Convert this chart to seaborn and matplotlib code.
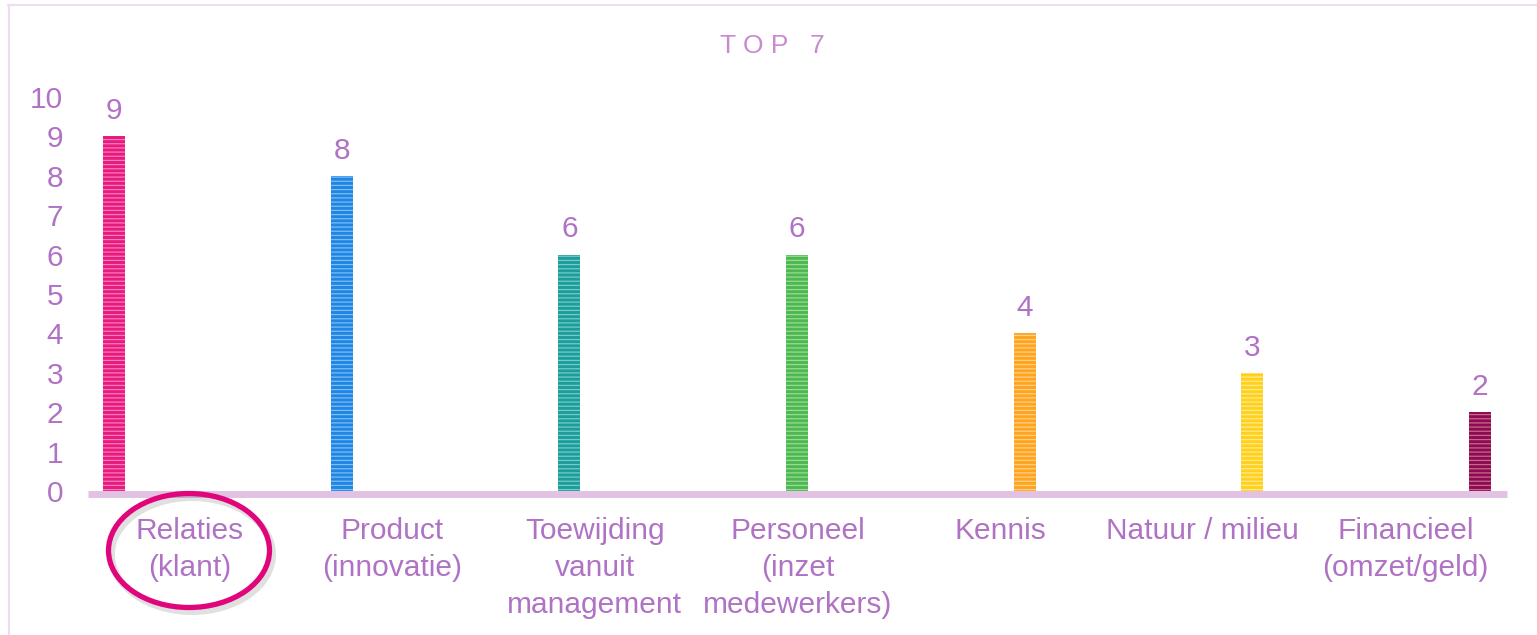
import numpy as np
import pandas as pd
import matplotlib
matplotlib.use('Agg')
import matplotlib.pyplot as plt
import seaborn as sns
from matplotlib.patches import Ellipse
from matplotlib.lines import Line2D

# data
categories = ['Relaties\n(klant)', 'Product\n(innovatie)', 'Toewijding\nvanuit\nmanagement',
              'Personeel\n(inzet\nmedewerkers)', 'Kennis', 'Natuur / milieu', 'Financieel\n(omzet/geld)']
values = [9, 8, 6, 6, 4, 3, 2]
bar_colors = ['#E8197F', '#1F86E3', '#1C9C9A', '#4CB84F', '#FFA41E', '#FFD11E', '#8C0B52']
stripe_colors = ['#F77DB8', '#7DBDF5', '#74CBC8', '#98DB98', '#FFD08A', '#FFEA8A', '#C9688F']
y_ticks = list(range(0, 11))

text_col = '#B072C4'
title_col = '#C98AD2'
axis_col = '#E2C2E2'
fs = 21.5

sns.set_style('white')
plt.rcParams['font.family'] = ['Liberation Sans', 'DejaVu Sans']
plt.rcParams['hatch.linewidth'] = 0.9

df = pd.DataFrame({'cat': categories, 'val': values})

fig = plt.figure(figsize=(15.37, 6.35), dpi=100)
ax = fig.add_axes([88 / 1537, 1 - 491 / 635, (1507 - 88) / 1537, (491 - 97) / 635])

sns.barplot(data=df, x='cat', y='val', hue='cat', palette=bar_colors, width=0.097,
            legend=False, ax=ax, saturation=1)

for p, sc in zip(ax.patches, stripe_colors):
    p.set_hatch('----')
    p.set_edgecolor(sc)
    p.set_linewidth(0)

for c in ax.containers:
    ax.bar_label(c, fmt='%d', padding=8, fontsize=fs, color=text_col)

ax.set_ylim(0, 10)
ax.set_xlim(-0.114, 6.118)
ax.set_yticks(y_ticks)
ax.set_yticklabels([str(t) for t in y_ticks])
ax.tick_params(axis='y', length=0, pad=18, labelsize=fs, labelcolor=text_col)

# category labels centred on equal slots along the axis, one text per line
ax.set_xticks([])
ax.set_xlabel('')
ax.set_ylabel('')
x0, x1 = ax.get_xlim()
slot = (x1 - x0) / len(categories)
line_step = 26.6  # points between lines
for i, lab in enumerate(categories):
    for j, line in enumerate(lab.split('\n')):
        ax.annotate(line, xy=(x0 + slot * (i + 0.5), 0), xycoords=('data', 'axes fraction'),
                    xytext=(0, -18.5 - j * line_step), textcoords='offset points',
                    ha='center', va='top', fontsize=fs, color=text_col, annotation_clip=False)

for s in ['top', 'right', 'left']:
    ax.spines[s].set_visible(False)
ax.spines['bottom'].set_color(axis_col)
ax.spines['bottom'].set_linewidth(5)
ax.spines['bottom'].set_position(('outward', 2.5))
ax.spines['bottom'].set_capstyle('butt')

# title
fig.text(772 / 1537, 1 - 46 / 635, 'T O P   7', ha='center', va='center',
         fontsize=19, color=title_col)

# frame lines
fig.add_artist(Line2D([8.5 / 1537, 8.5 / 1537], [1 - 5 / 635, 0], transform=fig.transFigure,
                      color='#EEDCF0', lw=1.6))
fig.add_artist(Line2D([8 / 1537, 1], [1 - 5 / 635, 1 - 5 / 635], transform=fig.transFigure,
                      color='#EEDCF0', lw=1.6))

# highlight ellipse around first category
cx, cy = 189 / 1537, 1 - 550.5 / 635
w, h = 161 / 1537, 114 / 635
fig.add_artist(Ellipse((cx + 3 / 1537, cy - 4 / 635), w, h, transform=fig.transFigure,
                       fill=False, ec='#000000', lw=5, alpha=0.12))
fig.add_artist(Ellipse((cx, cy), w, h, transform=fig.transFigure,
                       fill=False, ec='#E0057B', lw=3.8))

fig.savefig('out.png', dpi=100, facecolor='white')
